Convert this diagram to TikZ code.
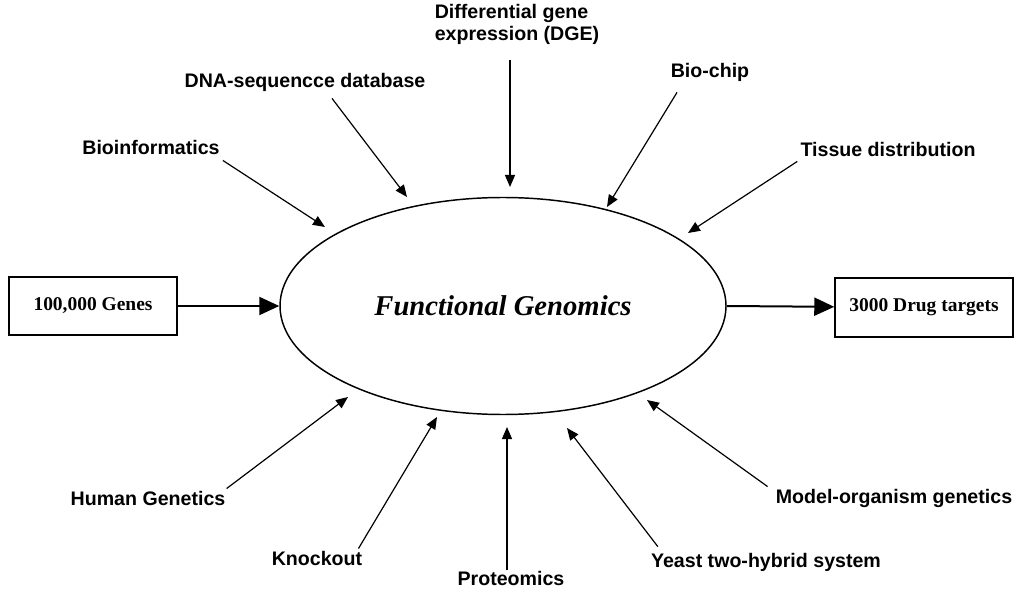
\documentclass[tikz,border=0pt]{standalone}
\usepackage{fontspec}
\setmainfont{Liberation Serif}
\setsansfont{Liberation Sans}
\usetikzlibrary{arrows.meta,shapes.geometric}
\begin{document}
\begin{tikzpicture}[x=0.75pt,y=-0.75pt,
  lbl/.style={inner sep=0pt,font=\sffamily\bfseries\fontsize{14.7}{16.5}\selectfont},
  boxn/.style={draw,line width=1.1pt,minimum height=43.5pt,inner sep=0pt,
     font=\rmfamily\bfseries\fontsize{14.6}{17}\selectfont},
  arr/.style={line width=0.9pt,-{Triangle[length=9pt,width=7.5pt]}},
  bigarr/.style={line width=1.5pt,-{Triangle[length=15pt,width=13.5pt]}}]
\useasboundingbox (0,0) rectangle (1016,591);
% central ellipse
\node[ellipse,draw,line width=1.1pt,minimum width=334.5pt,minimum height=162.75pt,inner sep=0pt,
  font=\rmfamily\bfseries\itshape\fontsize{21.5}{24}\selectfont] (fg) at (503,306) {Functional Genomics};
% boxes
\node[boxn,minimum width=126pt] (genes) at (93,306) {100,000 Genes};
\node[boxn,minimum width=133.5pt,minimum height=44.25pt] (drug) at (924,307.5) {3000 Drug targets};
\draw[bigarr] (genes) -- (fg.west);
\draw[bigarr] (fg.east) -- (drug);
% labels
\node[lbl] (bio) at (151,147) {Bioinformatics};
\node[lbl] (dna) at (305,82) {DNA-sequencce database};
\node[lbl,align=left] (dge) at (517,24) {Differential gene\\expression (DGE)};
\node[lbl] (chip) at (710,72) {Bio-chip};
\node[lbl] (tis) at (888,149) {Tissue distribution};
\node[lbl] (hum) at (148,498) {Human Genetics};
\node[lbl] (ko) at (317,558) {Knockout};
\node[lbl] (prot) at (511,578) {Proteomics};
\node[lbl] (yeast) at (766,562) {Yeast two-hybrid system};
\node[lbl] (model) at (894,498) {Model-organism genetics};
% arrow tips
\coordinate (tbio) at (325,227);
\coordinate (tdna) at (407,197);
\coordinate (tdge) at (510,187);
\coordinate (tchip) at (607,207);
\coordinate (ttis) at (688,233);
\coordinate (thum) at (348,397);
\coordinate (tko) at (437,417);
\coordinate (tprot) at (507,427);
\coordinate (tyeast) at (567,428);
\coordinate (tmodel) at (647,400);
% arrows (y grows downwards)
\draw[arr] (bio.south east) ++(3,6) -- (tbio);
\draw[arr] (dna.south) ++(27,7) -- (tdna);
\draw[arr] (dge.south) ++(-7,16) -- (tdge);
\draw[arr] (chip.south) ++(-33,11) -- (tchip);
\draw[arr] (tis.south west) ++(-3,5) -- (ttis);
\draw[arr] (hum.north east) ++(1,-2) -- (thum);
\draw[arr] (ko.north east) ++(-4,-2) -- (tko);
\draw[arr] (prot.north) ++(-4,-1) -- (tprot);
\draw[arr] (yeast.north west) ++(7,-6) -- (tyeast);
\draw[arr] (model.north west) ++(-8,-2) -- (tmodel);
\end{tikzpicture}
\end{document}
